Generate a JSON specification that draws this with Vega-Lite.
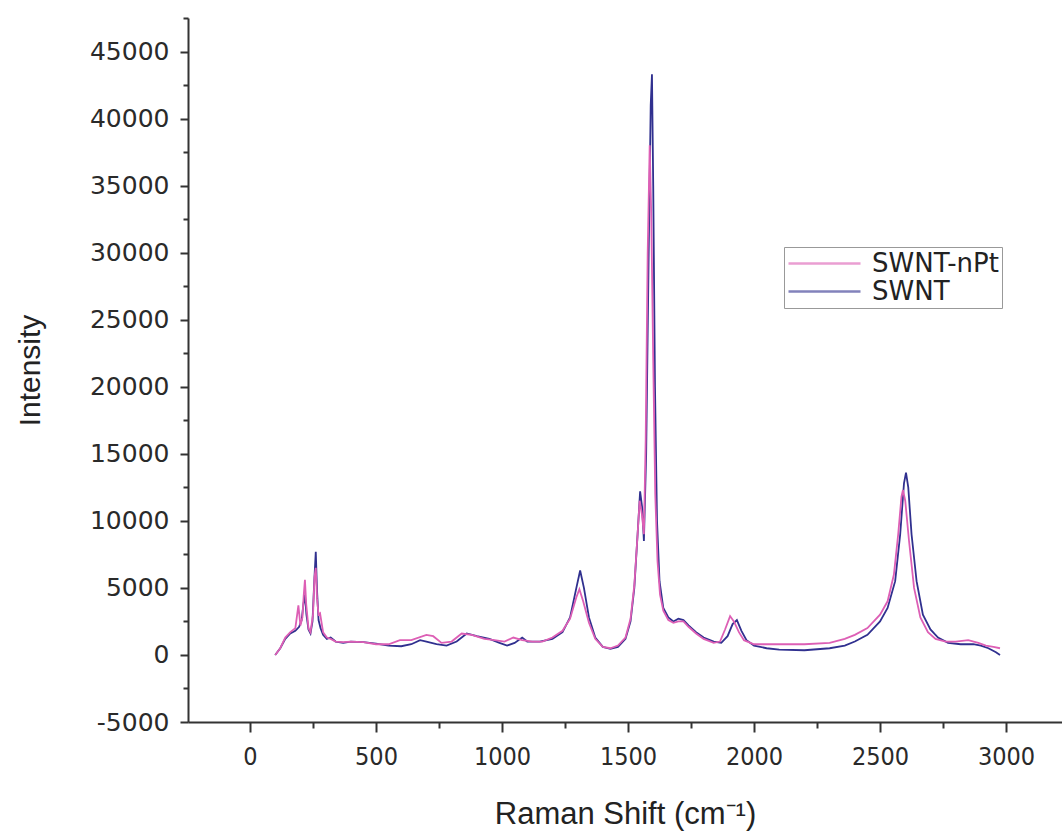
{
  "$schema": "https://vega.github.io/schema/vega-lite/v6.json",
  "width": 874,
  "height": 704,
  "autosize": {"type": "none"},
  "padding": {"left": 188, "top": 18, "right": 0, "bottom": 113},
  "background": "white",
  "config": {
    "view": {"stroke": null},
    "font": "Liberation Sans",
    "axis": {
      "grid": false,
      "domainColor": "#333",
      "domainWidth": 2,
      "tickColor": "#333",
      "tickWidth": 2,
      "labelColor": "#2a2a2a",
      "titleFont": "Liberation Sans",
      "titleFontWeight": "normal",
      "titleColor": "#222"
    }
  },
  "datasets": {
    "spec": [
      {"shift": 100, "series": "SWNT", "intensity": 0},
      {"shift": 120, "series": "SWNT", "intensity": 500},
      {"shift": 140, "series": "SWNT", "intensity": 1200},
      {"shift": 160, "series": "SWNT", "intensity": 1600},
      {"shift": 180, "series": "SWNT", "intensity": 1800},
      {"shift": 195, "series": "SWNT", "intensity": 2100},
      {"shift": 205, "series": "SWNT", "intensity": 2600},
      {"shift": 212, "series": "SWNT", "intensity": 3800},
      {"shift": 218, "series": "SWNT", "intensity": 4500},
      {"shift": 224, "series": "SWNT", "intensity": 3000},
      {"shift": 232, "series": "SWNT", "intensity": 1900},
      {"shift": 240, "series": "SWNT", "intensity": 1600},
      {"shift": 248, "series": "SWNT", "intensity": 2500},
      {"shift": 255, "series": "SWNT", "intensity": 5500},
      {"shift": 261, "series": "SWNT", "intensity": 7700},
      {"shift": 266, "series": "SWNT", "intensity": 4800},
      {"shift": 272, "series": "SWNT", "intensity": 2600},
      {"shift": 280, "series": "SWNT", "intensity": 2000},
      {"shift": 290, "series": "SWNT", "intensity": 1500},
      {"shift": 305, "series": "SWNT", "intensity": 1200},
      {"shift": 320, "series": "SWNT", "intensity": 1300},
      {"shift": 340, "series": "SWNT", "intensity": 1000},
      {"shift": 370, "series": "SWNT", "intensity": 900},
      {"shift": 400, "series": "SWNT", "intensity": 1000},
      {"shift": 450, "series": "SWNT", "intensity": 950},
      {"shift": 500, "series": "SWNT", "intensity": 850},
      {"shift": 550, "series": "SWNT", "intensity": 700},
      {"shift": 600, "series": "SWNT", "intensity": 650},
      {"shift": 640, "series": "SWNT", "intensity": 800},
      {"shift": 675, "series": "SWNT", "intensity": 1100},
      {"shift": 700, "series": "SWNT", "intensity": 1000},
      {"shift": 740, "series": "SWNT", "intensity": 800},
      {"shift": 780, "series": "SWNT", "intensity": 700},
      {"shift": 820, "series": "SWNT", "intensity": 1000},
      {"shift": 860, "series": "SWNT", "intensity": 1600},
      {"shift": 900, "series": "SWNT", "intensity": 1400},
      {"shift": 950, "series": "SWNT", "intensity": 1200},
      {"shift": 990, "series": "SWNT", "intensity": 900},
      {"shift": 1020, "series": "SWNT", "intensity": 700},
      {"shift": 1050, "series": "SWNT", "intensity": 900},
      {"shift": 1080, "series": "SWNT", "intensity": 1300},
      {"shift": 1100, "series": "SWNT", "intensity": 1000},
      {"shift": 1150, "series": "SWNT", "intensity": 1000},
      {"shift": 1200, "series": "SWNT", "intensity": 1200},
      {"shift": 1240, "series": "SWNT", "intensity": 1700},
      {"shift": 1270, "series": "SWNT", "intensity": 2800},
      {"shift": 1295, "series": "SWNT", "intensity": 5000},
      {"shift": 1310, "series": "SWNT", "intensity": 6300},
      {"shift": 1325, "series": "SWNT", "intensity": 5000},
      {"shift": 1345, "series": "SWNT", "intensity": 2800},
      {"shift": 1370, "series": "SWNT", "intensity": 1300},
      {"shift": 1400, "series": "SWNT", "intensity": 600},
      {"shift": 1430, "series": "SWNT", "intensity": 450},
      {"shift": 1460, "series": "SWNT", "intensity": 600},
      {"shift": 1490, "series": "SWNT", "intensity": 1200},
      {"shift": 1510, "series": "SWNT", "intensity": 2500},
      {"shift": 1525, "series": "SWNT", "intensity": 5000},
      {"shift": 1538, "series": "SWNT", "intensity": 9000},
      {"shift": 1548, "series": "SWNT", "intensity": 12200},
      {"shift": 1556, "series": "SWNT", "intensity": 11000},
      {"shift": 1563, "series": "SWNT", "intensity": 8500},
      {"shift": 1572, "series": "SWNT", "intensity": 15000},
      {"shift": 1582, "series": "SWNT", "intensity": 30000},
      {"shift": 1590, "series": "SWNT", "intensity": 41000},
      {"shift": 1595, "series": "SWNT", "intensity": 43300},
      {"shift": 1600, "series": "SWNT", "intensity": 35000},
      {"shift": 1607, "series": "SWNT", "intensity": 20000},
      {"shift": 1615, "series": "SWNT", "intensity": 10000},
      {"shift": 1625, "series": "SWNT", "intensity": 5500},
      {"shift": 1640, "series": "SWNT", "intensity": 3500},
      {"shift": 1660, "series": "SWNT", "intensity": 2800},
      {"shift": 1680, "series": "SWNT", "intensity": 2500},
      {"shift": 1700, "series": "SWNT", "intensity": 2700},
      {"shift": 1720, "series": "SWNT", "intensity": 2600},
      {"shift": 1740, "series": "SWNT", "intensity": 2200},
      {"shift": 1770, "series": "SWNT", "intensity": 1700},
      {"shift": 1800, "series": "SWNT", "intensity": 1300},
      {"shift": 1840, "series": "SWNT", "intensity": 1000},
      {"shift": 1870, "series": "SWNT", "intensity": 900},
      {"shift": 1895, "series": "SWNT", "intensity": 1400},
      {"shift": 1915, "series": "SWNT", "intensity": 2300},
      {"shift": 1932, "series": "SWNT", "intensity": 2600},
      {"shift": 1950, "series": "SWNT", "intensity": 1800},
      {"shift": 1970, "series": "SWNT", "intensity": 1100},
      {"shift": 2000, "series": "SWNT", "intensity": 700},
      {"shift": 2050, "series": "SWNT", "intensity": 500},
      {"shift": 2100, "series": "SWNT", "intensity": 400},
      {"shift": 2200, "series": "SWNT", "intensity": 350},
      {"shift": 2300, "series": "SWNT", "intensity": 500},
      {"shift": 2360, "series": "SWNT", "intensity": 700},
      {"shift": 2400, "series": "SWNT", "intensity": 1000},
      {"shift": 2450, "series": "SWNT", "intensity": 1500},
      {"shift": 2500, "series": "SWNT", "intensity": 2500},
      {"shift": 2530, "series": "SWNT", "intensity": 3500},
      {"shift": 2560, "series": "SWNT", "intensity": 5500},
      {"shift": 2580, "series": "SWNT", "intensity": 9000},
      {"shift": 2595, "series": "SWNT", "intensity": 12800},
      {"shift": 2603, "series": "SWNT", "intensity": 13600},
      {"shift": 2612, "series": "SWNT", "intensity": 12500},
      {"shift": 2625, "series": "SWNT", "intensity": 9000},
      {"shift": 2645, "series": "SWNT", "intensity": 5500},
      {"shift": 2670, "series": "SWNT", "intensity": 3000},
      {"shift": 2700, "series": "SWNT", "intensity": 1900},
      {"shift": 2730, "series": "SWNT", "intensity": 1300},
      {"shift": 2770, "series": "SWNT", "intensity": 900},
      {"shift": 2820, "series": "SWNT", "intensity": 800},
      {"shift": 2870, "series": "SWNT", "intensity": 800},
      {"shift": 2900, "series": "SWNT", "intensity": 700},
      {"shift": 2930, "series": "SWNT", "intensity": 500},
      {"shift": 2960, "series": "SWNT", "intensity": 200},
      {"shift": 2976, "series": "SWNT", "intensity": 0},

      {"shift": 100, "series": "SWNT-nPt", "intensity": 0},
      {"shift": 120, "series": "SWNT-nPt", "intensity": 500},
      {"shift": 140, "series": "SWNT-nPt", "intensity": 1300},
      {"shift": 160, "series": "SWNT-nPt", "intensity": 1700},
      {"shift": 180, "series": "SWNT-nPt", "intensity": 2000},
      {"shift": 192, "series": "SWNT-nPt", "intensity": 3700},
      {"shift": 200, "series": "SWNT-nPt", "intensity": 2200},
      {"shift": 208, "series": "SWNT-nPt", "intensity": 2800},
      {"shift": 213, "series": "SWNT-nPt", "intensity": 4400},
      {"shift": 218, "series": "SWNT-nPt", "intensity": 5600},
      {"shift": 223, "series": "SWNT-nPt", "intensity": 3800},
      {"shift": 232, "series": "SWNT-nPt", "intensity": 2000},
      {"shift": 240, "series": "SWNT-nPt", "intensity": 1700},
      {"shift": 250, "series": "SWNT-nPt", "intensity": 3000},
      {"shift": 256, "series": "SWNT-nPt", "intensity": 5800},
      {"shift": 261, "series": "SWNT-nPt", "intensity": 6500},
      {"shift": 266, "series": "SWNT-nPt", "intensity": 4200},
      {"shift": 272, "series": "SWNT-nPt", "intensity": 3000},
      {"shift": 278, "series": "SWNT-nPt", "intensity": 3100},
      {"shift": 290, "series": "SWNT-nPt", "intensity": 1700},
      {"shift": 305, "series": "SWNT-nPt", "intensity": 1300},
      {"shift": 320, "series": "SWNT-nPt", "intensity": 1200},
      {"shift": 340, "series": "SWNT-nPt", "intensity": 1000},
      {"shift": 370, "series": "SWNT-nPt", "intensity": 950},
      {"shift": 400, "series": "SWNT-nPt", "intensity": 1000},
      {"shift": 450, "series": "SWNT-nPt", "intensity": 950},
      {"shift": 500, "series": "SWNT-nPt", "intensity": 800},
      {"shift": 550, "series": "SWNT-nPt", "intensity": 800},
      {"shift": 595, "series": "SWNT-nPt", "intensity": 1100},
      {"shift": 640, "series": "SWNT-nPt", "intensity": 1100},
      {"shift": 700, "series": "SWNT-nPt", "intensity": 1500},
      {"shift": 727, "series": "SWNT-nPt", "intensity": 1400},
      {"shift": 760, "series": "SWNT-nPt", "intensity": 900},
      {"shift": 800, "series": "SWNT-nPt", "intensity": 1000},
      {"shift": 840, "series": "SWNT-nPt", "intensity": 1600},
      {"shift": 880, "series": "SWNT-nPt", "intensity": 1500},
      {"shift": 930, "series": "SWNT-nPt", "intensity": 1200},
      {"shift": 970, "series": "SWNT-nPt", "intensity": 1100},
      {"shift": 1010, "series": "SWNT-nPt", "intensity": 1000},
      {"shift": 1045, "series": "SWNT-nPt", "intensity": 1300},
      {"shift": 1080, "series": "SWNT-nPt", "intensity": 1100},
      {"shift": 1120, "series": "SWNT-nPt", "intensity": 1000},
      {"shift": 1160, "series": "SWNT-nPt", "intensity": 1000},
      {"shift": 1200, "series": "SWNT-nPt", "intensity": 1300},
      {"shift": 1240, "series": "SWNT-nPt", "intensity": 1800},
      {"shift": 1270, "series": "SWNT-nPt", "intensity": 2700},
      {"shift": 1295, "series": "SWNT-nPt", "intensity": 4300},
      {"shift": 1307, "series": "SWNT-nPt", "intensity": 4900},
      {"shift": 1322, "series": "SWNT-nPt", "intensity": 4000},
      {"shift": 1345, "series": "SWNT-nPt", "intensity": 2400},
      {"shift": 1370, "series": "SWNT-nPt", "intensity": 1200},
      {"shift": 1400, "series": "SWNT-nPt", "intensity": 600},
      {"shift": 1430, "series": "SWNT-nPt", "intensity": 500},
      {"shift": 1460, "series": "SWNT-nPt", "intensity": 700},
      {"shift": 1490, "series": "SWNT-nPt", "intensity": 1300},
      {"shift": 1510, "series": "SWNT-nPt", "intensity": 2700},
      {"shift": 1525, "series": "SWNT-nPt", "intensity": 5200},
      {"shift": 1538, "series": "SWNT-nPt", "intensity": 9000},
      {"shift": 1546, "series": "SWNT-nPt", "intensity": 11500},
      {"shift": 1555, "series": "SWNT-nPt", "intensity": 10500},
      {"shift": 1563, "series": "SWNT-nPt", "intensity": 9000},
      {"shift": 1570, "series": "SWNT-nPt", "intensity": 16000},
      {"shift": 1578, "series": "SWNT-nPt", "intensity": 30000},
      {"shift": 1586, "series": "SWNT-nPt", "intensity": 38000},
      {"shift": 1592, "series": "SWNT-nPt", "intensity": 33000},
      {"shift": 1600, "series": "SWNT-nPt", "intensity": 22000},
      {"shift": 1608, "series": "SWNT-nPt", "intensity": 12000},
      {"shift": 1617, "series": "SWNT-nPt", "intensity": 7000},
      {"shift": 1627, "series": "SWNT-nPt", "intensity": 4500},
      {"shift": 1640, "series": "SWNT-nPt", "intensity": 3300},
      {"shift": 1660, "series": "SWNT-nPt", "intensity": 2600},
      {"shift": 1680, "series": "SWNT-nPt", "intensity": 2400},
      {"shift": 1700, "series": "SWNT-nPt", "intensity": 2500},
      {"shift": 1720, "series": "SWNT-nPt", "intensity": 2500},
      {"shift": 1740, "series": "SWNT-nPt", "intensity": 2100},
      {"shift": 1770, "series": "SWNT-nPt", "intensity": 1600},
      {"shift": 1800, "series": "SWNT-nPt", "intensity": 1200},
      {"shift": 1840, "series": "SWNT-nPt", "intensity": 900},
      {"shift": 1865, "series": "SWNT-nPt", "intensity": 1000},
      {"shift": 1885, "series": "SWNT-nPt", "intensity": 1900},
      {"shift": 1905, "series": "SWNT-nPt", "intensity": 2900},
      {"shift": 1920, "series": "SWNT-nPt", "intensity": 2500},
      {"shift": 1940, "series": "SWNT-nPt", "intensity": 1700},
      {"shift": 1960, "series": "SWNT-nPt", "intensity": 1100},
      {"shift": 2000, "series": "SWNT-nPt", "intensity": 800},
      {"shift": 2050, "series": "SWNT-nPt", "intensity": 800},
      {"shift": 2100, "series": "SWNT-nPt", "intensity": 800},
      {"shift": 2200, "series": "SWNT-nPt", "intensity": 800},
      {"shift": 2300, "series": "SWNT-nPt", "intensity": 900},
      {"shift": 2360, "series": "SWNT-nPt", "intensity": 1200},
      {"shift": 2400, "series": "SWNT-nPt", "intensity": 1500},
      {"shift": 2450, "series": "SWNT-nPt", "intensity": 2000},
      {"shift": 2500, "series": "SWNT-nPt", "intensity": 3000},
      {"shift": 2530, "series": "SWNT-nPt", "intensity": 4000},
      {"shift": 2555, "series": "SWNT-nPt", "intensity": 6000},
      {"shift": 2572, "series": "SWNT-nPt", "intensity": 9000},
      {"shift": 2585, "series": "SWNT-nPt", "intensity": 11800},
      {"shift": 2591, "series": "SWNT-nPt", "intensity": 12300},
      {"shift": 2600, "series": "SWNT-nPt", "intensity": 11500},
      {"shift": 2615, "series": "SWNT-nPt", "intensity": 8500},
      {"shift": 2635, "series": "SWNT-nPt", "intensity": 5000},
      {"shift": 2660, "series": "SWNT-nPt", "intensity": 2800},
      {"shift": 2690, "series": "SWNT-nPt", "intensity": 1700},
      {"shift": 2720, "series": "SWNT-nPt", "intensity": 1200},
      {"shift": 2760, "series": "SWNT-nPt", "intensity": 1000},
      {"shift": 2800, "series": "SWNT-nPt", "intensity": 1000},
      {"shift": 2850, "series": "SWNT-nPt", "intensity": 1100},
      {"shift": 2890, "series": "SWNT-nPt", "intensity": 900},
      {"shift": 2920, "series": "SWNT-nPt", "intensity": 700},
      {"shift": 2950, "series": "SWNT-nPt", "intensity": 600},
      {"shift": 2976, "series": "SWNT-nPt", "intensity": 500}
    ]
  },
  "data": {"name": "spec"},
  "layer": [
    {
      "mark": {"type": "line", "opacity": 0},
      "encoding": {
        "x": {
          "field": "shift", "type": "quantitative",
          "scale": {"domain": [-246, 3222], "nice": false, "zero": false},
          "axis": {
            "orient": "bottom",
            "values": [250, 750, 1250, 1750, 2250, 2750],
            "labels": false, "domain": false, "tickSize": 6, "title": null
          }
        },
        "y": {
          "field": "intensity", "type": "quantitative",
          "scale": {"domain": [-5000, 47500], "nice": false, "zero": false},
          "axis": {
            "orient": "left",
            "values": [-2500, 2500, 7500, 12500, 17500, 22500, 27500, 32500, 37500, 42500, 47500],
            "labels": false, "domain": false, "tickSize": 5, "title": null
          }
        },
        "detail": {"field": "series"}
      }
    },
    {
      "mark": {"type": "line", "strokeWidth": 1.8, "clip": true},
      "encoding": {
        "x": {
          "field": "shift", "type": "quantitative",
          "scale": {"domain": [-246, 3222], "nice": false, "zero": false},
          "axis": {
            "orient": "bottom",
            "values": [0, 500, 1000, 1500, 2000, 2500, 3000],
            "labelExpr": "'' + datum.value",
            "tickSize": 10,
            "labelFont": "DejaVu Sans Condensed, Liberation Sans, sans-serif",
            "labelFontSize": 25,
            "labelPadding": 12,
            "title": "Raman Shift (cm⁻¹)",
            "titleFontSize": 31,
            "titlePadding": 30
          }
        },
        "y": {
          "field": "intensity", "type": "quantitative",
          "scale": {"domain": [-5000, 47500], "nice": false, "zero": false},
          "axis": {
            "orient": "left",
            "values": [-5000, 0, 5000, 10000, 15000, 20000, 25000, 30000, 35000, 40000, 45000],
            "labelExpr": "'' + datum.value",
            "tickSize": 8,
            "labelFont": "DejaVu Sans",
            "labelFontSize": 25,
            "labelPadding": 11,
            "title": "Intensity",
            "titleFontSize": 30,
            "titlePadding": 44
          }
        },
        "color": {
          "field": "series", "type": "nominal",
          "scale": {"domain": ["SWNT-nPt", "SWNT"], "range": ["#dd5fb5", "#30308f"]},
          "legend": {
            "orient": "none",
            "legendX": 596,
            "legendY": 229,
            "title": null,
            "symbolType": "M-1,0H5",
            "symbolSize": 576,
            "symbolStrokeWidth": 2.5,
            "symbolOpacity": 0.6,
            "labelFont": "DejaVu Sans",
            "labelFontSize": 26,
            "labelColor": "#222",
            "labelOffset": 58,
            "rowPadding": 1,
            "padding": 3,
            "strokeColor": "#999",
            "fillColor": "white"
          }
        }
      }
    }
  ],
  "resolve": {"axis": {"x": "independent", "y": "independent"}}
}
